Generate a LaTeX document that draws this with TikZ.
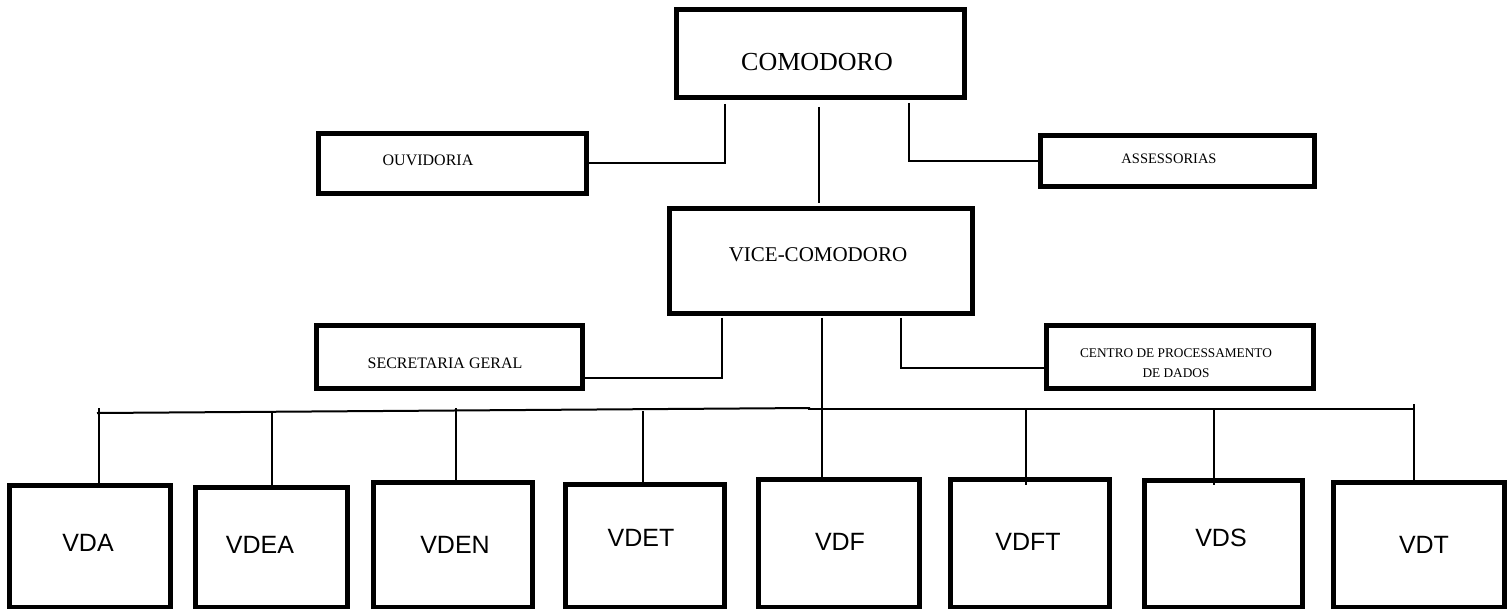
\documentclass[tikz,border=0pt]{standalone}
\usepackage{fontspec}
\setmainfont{Liberation Serif}
\newfontfamily\arialf{Liberation Sans}
\begin{document}
\begin{tikzpicture}[x=1pt,y=-1pt,
  box/.style={draw,line width=4.8pt,inner sep=0pt},
  conn/.style={line width=1.6pt},
  busline/.style={line width=2pt},
  serif/.style={inner sep=0pt,font=\fontsize{#1}{20}\selectfont},
  sans/.style={inner sep=0pt,font=\arialf\fontsize{25}{25}\selectfont}]
\fill[white] (0,0) rectangle (1511,610);
\useasboundingbox (0,0) rectangle (1511,610);

% boxes
\node[box,minimum width=288pt,minimum height=88pt] (com) at (820.5,53.5) {};
\node[box,minimum width=268pt,minimum height=60pt] (ouv) at (452.5,163.5) {};
\node[box,minimum width=274pt,minimum height=51pt] (ass) at (1177.5,161) {};
\node[box,minimum width=303pt,minimum height=105pt] (vice) at (821,261) {};
\node[box,minimum width=266pt,minimum height=63pt] (sec) at (449.5,357) {};
\node[box,minimum width=267pt,minimum height=63pt] (cpd) at (1180,357) {};
\node[box,minimum width=161pt,minimum height=121.5pt] (vda) at (90,546.25) {};
\node[box,minimum width=152pt,minimum height=119.5pt] (vdea) at (271.5,547.25) {};
\node[box,minimum width=159pt,minimum height=124.5pt] (vden) at (453,544.75) {};
\node[box,minimum width=159pt,minimum height=122.5pt] (vdet) at (645,545.75) {};
\node[box,minimum width=161pt,minimum height=127.5pt] (vdf) at (839,543.25) {};
\node[box,minimum width=159pt,minimum height=127.5pt] (vdft) at (1030,543.25) {};
\node[box,minimum width=158pt,minimum height=126.5pt] (vds) at (1223.5,543.75) {};
\node[box,minimum width=171pt,minimum height=124.5pt] (vdt) at (1419,544.75) {};

% texts
\node[serif=26] (tcom) at (817,62) {COMODORO};
\node[serif=16] (touv) at (428,160) {OUVIDORIA};
\node[serif=14.5] (tass) at (1169,159) {ASSESSORIAS};
\node[serif=21] (tvice) at (818,255) {VICE-COMODORO};
\node[serif=16] (tsec) at (445,363) {SECRETARIA GERAL};
\node[serif=13.3,align=center] (tcpd) at (1176,363) {CENTRO DE PROCESSAMENTO\\DE DADOS};
\node[sans] (tvda) at (88,543) {VDA};
\node[sans] (tvdea) at (260,545) {VDEA};
\node[sans] (tvden) at (455,545) {VDEN};
\node[sans] (tvdet) at (641,538) {VDET};
\node[sans] (tvdf) at (840,542) {VDF};
\node[sans] (tvdft) at (1028,542) {VDFT};
\node[sans] (tvds) at (1221,538) {VDS};
\node[sans] (tvdt) at (1424,545) {VDT};

% upper connectors
\coordinate (kO) at (725,163);
\draw[conn,shorten <=4pt] (com.south -| kO) -- (kO) -- (ouv.east |- kO);
\coordinate (kA) at (909,161);
\draw[conn,shorten <=3pt] (com.south -| kA) -- (kA) -- (ass.west |- kA);
\coordinate (kC) at (819,150);
\draw[conn,shorten <=7pt,shorten >=3pt] (com.south -| kC) -- (vice.north -| kC);

\coordinate (kS) at (722,378);
\draw[conn,shorten <=2pt] (vice.south -| kS) -- (kS) -- (sec.east |- kS);
\coordinate (kP) at (901,368);
\draw[conn,shorten <=2pt] (vice.south -| kP) -- (kP) -- (cpd.west |- kP);
\coordinate (kT) at (822,400);
\draw[conn,shorten <=2pt] (vice.south -| kT) -- (vdf.north -| kT);

% bus
\coordinate (bL) at (97,413);
\coordinate (bM) at (810,408);
\coordinate (bM2) at (808,409);
\coordinate (bR) at (1415,409);
\draw[busline] (bL) -- (bM);
\draw[busline] (bM2) -- (bR);

% drops
\coordinate (d1) at (99,408);
\draw[conn] (d1) -- (d1 |- vda.north);
\coordinate (d2) at (272,413);
\draw[conn] (d2) -- (d2 |- vdea.north);
\coordinate (d3) at (456,408);
\draw[conn] (d3) -- (d3 |- vden.north);
\coordinate (d4) at (643,411);
\draw[conn,shorten >=-5pt] (d4) -- (d4 |- vdet.north);
\coordinate (d6) at (1026,410);
\draw[conn,shorten >=-8pt] (d6) -- (d6 |- vdft.north);
\coordinate (d7) at (1214,410);
\draw[conn,shorten >=-7pt] (d7) -- (d7 |- vds.north);
\coordinate (d8) at (1414,404);
\draw[conn] (d8) -- (d8 |- vdt.north);
\end{tikzpicture}
\end{document}
